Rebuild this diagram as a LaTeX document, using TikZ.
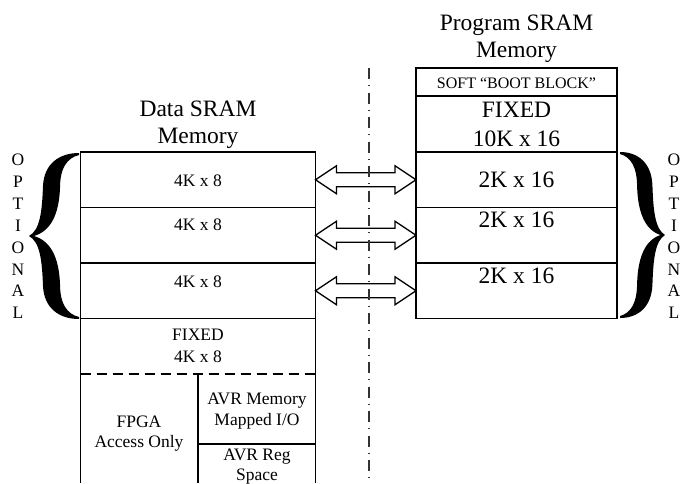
\documentclass[tikz,border=0pt]{standalone}
\usepackage{fontspec}
\setmainfont{Liberation Serif}
\usetikzlibrary{calc}

\tikzset{
  curlybrace/.pic={
    \fill (50,-83) .. controls (30,-83) and (15,-72) .. (14,-50)
      .. controls (13,-24) and (11,-6) .. (0,0)
      .. controls (11,6) and (13,24) .. (14,50)
      .. controls (15,72) and (30,83) .. (50,83) -- (50,81)
      .. controls (38,78) and (31,68) .. (31,48)
      .. controls (30,22) and (22,5) .. (5,0)
      .. controls (22,-5) and (30,-22) .. (31,-48)
      .. controls (31,-68) and (38,-78) .. (50,-81) -- cycle;
  }
}

\begin{document}
\begin{tikzpicture}[x=1pt,y=-1pt,
  box/.style={draw, line width=1.3pt, rectangle, inner sep=0pt, outer sep=0pt},
  lbl/.style={anchor=base, inner sep=0pt, font=\fontsize{17.5}{20}\selectfont},
  big/.style={anchor=base, inner sep=0pt, font=\fontsize{23.5}{27}\selectfont},
  small/.style={anchor=base, inner sep=0pt, font=\fontsize{16}{19}\selectfont},
  busarrow/.style={draw, line width=1.3pt, line join=miter},
  axis/.style={line width=1.3pt, draw=black!80, dash pattern=on 11pt off 6pt on 1pt off 6.5pt},
  wire/.style={line width=1.3pt},
  cutline/.style={line width=1.3pt, dash pattern=on 10pt off 6pt}
]
\useasboundingbox (0,0) rectangle (682,483);

% ---- program memory column ----
\node[big] (ptitle1) at (516.5,30) {Program SRAM};
\node[big] (ptitle2) at (516.5,57) {Memory};
\node[box, minimum width=201pt, minimum height=28pt] (boot) at (516.5,82) {};
\node[box, minimum width=201pt, minimum height=56pt] (pfix) at (516.5,124) {};
\node[box, minimum width=201pt, minimum height=55.5pt] (p1) at (516.5,179.75) {};
\node[box, minimum width=201pt, minimum height=55.5pt] (p2) at (516.5,235.25) {};
\node[box, minimum width=201pt, minimum height=55.5pt] (p3) at (516.5,290.75) {};
\node[small] (boottxt) at (516.5,88) {SOFT “BOOT BLOCK”};
\node[big] (pfix1) at (516.5,117) {FIXED};
\node[big] (pfix2) at (516.5,146) {10K x 16};
\node[big] (p1txt) at (516.5,187) {2K x 16};
\node[big] (p2txt) at (516.5,227.5) {2K x 16};
\node[big] (p3txt) at (516.5,283.5) {2K x 16};

% ---- data memory column ----
\node[big] (dtitle1) at (198,116) {Data SRAM};
\node[big] (dtitle2) at (198,143) {Memory};
\node[box, minimum width=235pt, minimum height=55.5pt] (d1) at (198,179.75) {};
\node[box, minimum width=235pt, minimum height=55.5pt] (d2) at (198,235.25) {};
\node[box, minimum width=235pt, minimum height=55.5pt] (d3) at (198,290.75) {};
\node[lbl] (d1txt) at (198,186) {4K x 8};
\node[lbl] (d2txt) at (198,230) {4K x 8};
\node[lbl] (d3txt) at (198,287) {4K x 8};

\coordinate (dbl) at (80.5,483);
\coordinate (dbr) at (315.5,483);
\coordinate (fa) at (80.5,374);
\coordinate (fb) at (315.5,374);
\coordinate (va) at (198,374);
\coordinate (vb) at (198,483);
\coordinate (ha) at (198,444);
\coordinate (hb) at (315.5,444);
\draw[wire] (d3.south west) -- (dbl);
\draw[wire] (d3.south east) -- (dbr);
\draw[cutline] (fa) -- (fb);
\draw[wire] (va) -- (vb);
\draw[wire] (ha) -- (hb);

\node[lbl] (dfix1) at (198,340) {FIXED};
\node[lbl] (dfix2) at (198,362) {4K x 8};
\node[lbl] (fpga1) at (139,427) {FPGA};
\node[lbl] (fpga2) at (139,447) {Access Only};
\node[lbl] (io1) at (257,404) {AVR Memory};
\node[lbl] (io2) at (257,425) {Mapped I/O};
\node[lbl] (reg1) at (257,460) {AVR Reg};
\node[lbl] (reg2) at (257,480) {Space};

% ---- bus arrows between the banks ----
\foreach \k in {1,2,3} {
  \draw[busarrow] (d\k.east) -- ++(21,-14) -- ++(0,7)
    -- ($(p\k.west)+(-21,-7)$) -- ++(0,-7) -- (p\k.west)
    -- ++(-21,14) -- ++(0,-7) -- ($(d\k.east)+(21,7)$) -- ++(0,7) -- cycle;
}

% ---- centre line ----
\coordinate (ctop) at (369,68);
\coordinate (cbot) at (369,483);
\draw[axis] (ctop) -- (cbot);

% ---- optional-bank braces ----
\pic at (29,236) {curlybrace};
\pic[xscale=-0.9] at (665,235) {curlybrace};
\foreach \ch [count=\i from 0] in {O,P,T,I,O,N,A,L} {
  \node[lbl] (optl\i) at (18,{165.5+21.9*\i}) {\ch};
  \node[lbl] (optr\i) at (674,{165.5+21.9*\i}) {\ch};
}
\end{tikzpicture}
\end{document}
